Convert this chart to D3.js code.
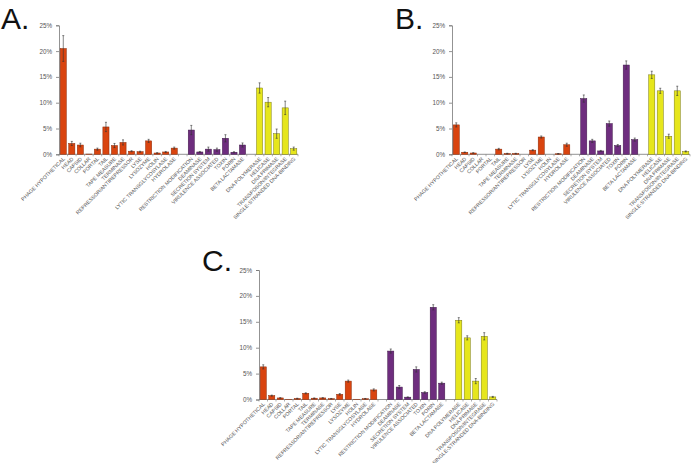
<!DOCTYPE html>
<html>
<head>
<meta charset="utf-8">
<script src="https://cdn.jsdelivr.net/npm/d3@7"></script>
<style>
  body { margin: 0; background: #fff; }
  svg { display: block; font-family: "Liberation Sans", Arial, sans-serif; }
  .tick text { fill: #555; }
</style>
</head>
<body>
<script>
// Categories in three groups, gaps between the groups
const phageCats = ["PHAGE HYPOTHETICAL", "HEAD", "CAPSID", "COLLAR", "PORTAL", "TAIL", "TAPE MEASURE",
  "TERMINASE", "REPRESSOR/ANTIREPRESSOR", "LYSE", "LYSOZYME", "HOLIN", "LYTIC TRANSGLYCOSYLASE", "HYDROLASE"];
const hostCats = ["RESTRICTION MODIFICATION", "DEAMINASE", "SECRETION SYSTEM", "VIRULENCE ASSOCIATED",
  "TOXIN", "PORIN", "BETA LACTAMASE"];
const mobileCats = ["DNA POLYMERASE", "HELICASE", "DNA PRIMASE", "TRANSPOSON/INTEGRASE",
  "SINGLE-STRANDED DNA-BINDING"];

const yTicks = [0, 5, 10, 15, 20, 25];

// Percent values (and error) per panel, same order as the categories
const valuesA = [20.5, 2.1, 1.8, 0.05, 1.0, 5.3, 1.7, 2.3, 0.6, 0.5, 2.6, 0.25, 0.45, 1.2,
  4.7, 0.45, 1.0, 0.9, 3.1, 0.4, 1.8,
  12.85, 10.1, 4.0, 9.0, 1.1];
const errorsA = [2.5, 0.4, 0.35, 0, 0.2, 0.9, 0.4, 0.5, 0.1, 0.1, 0.3, 0.05, 0.1, 0.2,
  0.9, 0.1, 0.4, 0.3, 0.7, 0.1, 0.4,
  1.0, 0.9, 0.9, 1.3, 0.3];

const valuesB = [5.7, 0.4, 0.25, 0, 0, 1.0, 0.15, 0.15, 0, 0.8, 3.35, 0, 0.1, 1.85,
  10.8, 2.6, 0.65, 5.95, 1.7, 17.3, 2.85,
  15.4, 12.3, 3.5, 12.3, 0.55];
const errorsB = [0.4, 0.05, 0.05, 0, 0, 0.15, 0.05, 0.05, 0, 0.1, 0.2, 0, 0.05, 0.3,
  0.7, 0.3, 0.1, 0.5, 0.2, 0.8, 0.3,
  0.7, 0.5, 0.4, 0.9, 0.1];

const valuesC = [6.3, 0.75, 0.3, 0.05, 0.2, 1.2, 0.25, 0.3, 0.15, 1.0, 3.55, 0.05, 0.15, 1.85,
  9.35, 2.4, 0.45, 5.8, 1.35, 17.8, 3.15,
  15.3, 11.9, 3.55, 12.2, 0.5];
const errorsC = [0.4, 0.1, 0.05, 0, 0.05, 0.1, 0.05, 0.05, 0.05, 0.15, 0.2, 0, 0.05, 0.2,
  0.4, 0.3, 0.05, 0.5, 0.15, 0.5, 0.2,
  0.5, 0.4, 0.5, 0.7, 0.1];

const groupColors = ["#d9440f", "#6e2d7e", "#e6e61c"];
const groupStroke = ["#8a2a08", "#3e1848", "#7a7a18"];

const width = 691, height = 463;
const svg = d3.select("body").append("svg")
  .attr("width", width)
  .attr("height", height);

// slot list with gap placeholders
const slots = [...phageCats, "_gap1", ...hostCats, "_gap2", ...mobileCats];
const cats = [...phageCats, ...hostCats, ...mobileCats];
const groupOf = c => phageCats.includes(c) ? 0 : hostCats.includes(c) ? 1 : 2;

function drawPanel(letter, values, errors, x0, x1, yTop, yBottom, letterX, letterY) {
  const g = svg.append("g");
  const x = d3.scaleBand().domain(slots).range([x0, x1]).paddingInner(0.28).paddingOuter(0.14);
  const y = d3.scaleLinear().domain([0, 25]).range([yBottom, yTop]);

  const data = cats.map((c, i) => ({cat: c, v: values[i], e: errors[i], grp: groupOf(c)}));

  // y axis
  const yAxis = d3.axisLeft(y).tickValues(yTicks).tickSize(3).tickFormat(d => d + "%");
  const ya = g.append("g").attr("transform", `translate(${x0},0)`).call(yAxis);
  ya.selectAll("path, line").attr("stroke", "#777").attr("stroke-width", 0.8);
  ya.selectAll("text").attr("font-size", 6.3).attr("dx", -1);

  // x axis baseline and small ticks at slot boundaries
  g.append("line").attr("x1", x0).attr("x2", x1).attr("y1", yBottom).attr("y2", yBottom)
    .attr("stroke", "#777").attr("stroke-width", 0.8);
  const step = x.step();
  g.selectAll("line.xt").data(d3.range(slots.length + 1)).enter().append("line")
    .attr("class", "xt")
    .attr("x1", i => x0 + i * step).attr("x2", i => x0 + i * step)
    .attr("y1", yBottom).attr("y2", yBottom + 2)
    .attr("stroke", "#777").attr("stroke-width", 0.6);

  // bars
  g.selectAll("rect.bar").data(data).enter().append("rect")
    .attr("class", "bar")
    .attr("x", d => x(d.cat))
    .attr("width", x.bandwidth())
    .attr("y", d => y(d.v))
    .attr("height", d => yBottom - y(d.v))
    .attr("fill", d => groupColors[d.grp])
    .attr("stroke", d => groupStroke[d.grp])
    .attr("stroke-width", 0.5);

  // error bars
  const eb = data.filter(d => d.e > 0);
  const cx = d => x(d.cat) + x.bandwidth() / 2;
  g.selectAll("line.err").data(eb).enter().append("line")
    .attr("x1", cx).attr("x2", cx)
    .attr("y1", d => y(d.v - d.e)).attr("y2", d => y(d.v + d.e))
    .attr("stroke", "#333").attr("stroke-width", 0.6);
  g.selectAll("line.capT").data(eb).enter().append("line")
    .attr("x1", d => cx(d) - 1).attr("x2", d => cx(d) + 1)
    .attr("y1", d => y(d.v + d.e)).attr("y2", d => y(d.v + d.e))
    .attr("stroke", "#333").attr("stroke-width", 0.6);
  g.selectAll("line.capB").data(eb).enter().append("line")
    .attr("x1", d => cx(d) - 1).attr("x2", d => cx(d) + 1)
    .attr("y1", d => y(d.v - d.e)).attr("y2", d => y(d.v - d.e))
    .attr("stroke", "#333").attr("stroke-width", 0.6);

  // category labels, rotated
  g.selectAll("text.cat").data(data).enter().append("text")
    .attr("class", "cat")
    .attr("transform", d => `translate(${cx(d) + 2},${yBottom + 5}) rotate(-45)`)
    .attr("text-anchor", "end")
    .attr("font-size", 5.2)
    .attr("fill", "#555")
    .text(d => d.cat);

  // panel letter
  svg.append("text")
    .attr("x", letterX).attr("y", letterY)
    .attr("font-size", 30)
    .attr("font-family", "Liberation Sans, Arial, sans-serif")
    .attr("fill", "#111")
    .text(letter);
}

drawPanel("A.", valuesA, errorsA, 59, 298, 25.3, 154.3, 1, 29);
drawPanel("B.", valuesB, errorsB, 452, 690, 25.3, 154.3, 395, 29);
drawPanel("C.", valuesC, errorsC, 259, 497, 270, 399.5, 202, 271);
</script>
</body>
</html>
